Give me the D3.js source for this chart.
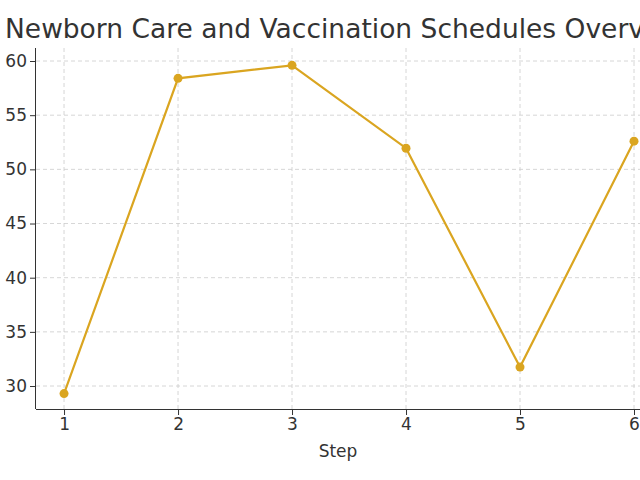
<!DOCTYPE html>
<html><head><meta charset="utf-8">
<script src="https://cdn.jsdelivr.net/npm/d3@7"></script>
<style>body{margin:0;background:#fff}svg{font-family:"DejaVu Sans",sans-serif}</style>
</head><body><svg id="c" width="640" height="480"></svg>
<script>
const steps=[1,2,3,4,5,6];
const values=[29.3,58.4,59.6,51.95,31.75,52.6];
const yTicks=[30,35,40,45,50,55,60];
const title="Newborn Care and Vaccination Schedules Overview";
const svg=d3.select("#c");
const x=d3.scaleLinear().domain([0.754,6.0]).range([36,634]);
const y=d3.scaleLinear().domain([27.88,61.2]).range([409,48]);
const g=svg.append("g");
g.selectAll(".gx").data(steps).join("line").attr("x1",d=>x(d)).attr("x2",d=>x(d)).attr("y1",48).attr("y2",409).attr("stroke","#ccc").attr("stroke-dasharray","4,3").attr("stroke-width",0.8);
g.selectAll(".gy").data(yTicks).join("line").attr("x1",36).attr("x2",640).attr("y1",d=>y(d)).attr("y2",d=>y(d)).attr("stroke","#ccc").attr("stroke-dasharray","4,3").attr("stroke-width",0.8);
const xa=svg.append("g").attr("transform","translate(0,409)").call(d3.axisBottom(x).tickValues(steps).tickFormat(d3.format("d")).tickSizeOuter(0));
const ya=svg.append("g").attr("transform","translate(36,0)").call(d3.axisLeft(y).tickValues(yTicks).tickSizeOuter(0));
[xa,ya].forEach(a=>{a.selectAll("text").attr("font-size",17).attr("fill","#333").attr("font-family","DejaVu Sans");a.selectAll("line,path").attr("stroke","#333");});
xa.select(".domain").attr("d","M36,0.5H640");
ya.select(".domain").attr("d","M-0.5,48V409");
svg.append("path").datum(steps.map((s,i)=>[s,values[i]])).attr("fill","none").attr("stroke","#DAA520").attr("stroke-width",2.2).attr("d",d3.line().x(d=>x(d[0])).y(d=>y(d[1])));
svg.selectAll(".pt").data(values).join("circle").attr("cx",(d,i)=>x(steps[i])).attr("cy",d=>y(d)).attr("r",4.5).attr("fill","#DAA520");
svg.append("text").attr("x",338).attr("y",457).attr("text-anchor","middle").attr("font-size",17).attr("fill","#333").text("Step");
svg.append("text").attr("x",5).attr("y",38).attr("font-size",26.5).attr("fill","#333").text(title);
</script></body></html>
